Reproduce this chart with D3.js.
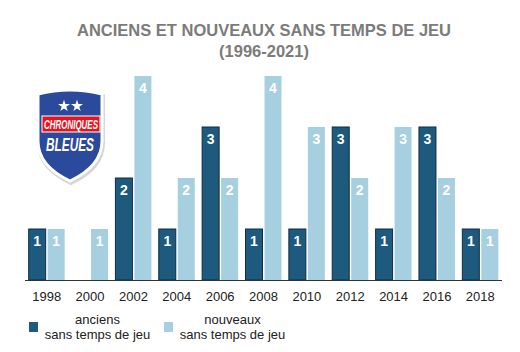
<!DOCTYPE html>
<head>
  <meta charset="utf-8">
  <script src="https://cdn.jsdelivr.net/npm/d3@7"></script>
  <style>
    body { margin: 0; background: #fff; font-family: "Liberation Sans", Arial, sans-serif; }
    svg { display: block; }
  </style>
</head>
<body>
  <div id="chart"></div>
  <script>

  var years = ["1998","2000","2002","2004","2006","2008","2010","2012","2014","2016","2018"]
    , anciens  = [1, 0, 2, 1, 3, 1, 1, 3, 1, 3, 1]
    , nouveaux = [1, 1, 4, 2, 2, 4, 3, 2, 3, 2, 1]
    , seriesKeys = ["anciens", "nouveaux"]
    , seriesColors = ["#1d5a7d", "#a6cfe0"]
    , legendLines = [["anciens", "sans temps de jeu"], ["nouveaux", "sans temps de jeu"]]
    , titleLines = ["ANCIENS ET NOUVEAUX SANS TEMPS DE JEU", "(1996-2021)"]

  var width = 520, height = 352
    , baseY = 280

  var svg = d3.select("#chart").append("svg")
      .attr("width", width)
      .attr("height", height)

  // title
  svg.selectAll(".title")
      .data(titleLines)
    .enter().append("text")
      .attr("class", "title")
      .attr("x", 264)
      .attr("y", function(d, i) { return 36 + i * 21 })
      .attr("text-anchor", "middle")
      .style("font-size", "16.5px")
      .style("font-weight", "bold")
      .style("fill", "#7b7b7b")
      .text(function(d) { return d })

  var x = d3.scaleBand()
      .domain(years)
      .range([25, 502])

  var y = d3.scaleLinear()
      .domain([0, 4])
      .range([baseY, 76])

  var rows = years.map(function(yr, i) {
    return { year: yr, values: [anciens[i], nouveaux[i]] }
  })

  var groups = svg.selectAll(".group")
      .data(rows)
    .enter().append("g")
      .attr("class", "group")
      .attr("transform", function(d) { return "translate(" + (x(d.year) + x.bandwidth() / 2) + ",0)" })

  var bars = groups.selectAll(".bar")
      .data(function(d) {
        return d.values.map(function(v, k) { return { key: seriesKeys[k], k: k, value: v } }).filter(function(b) { return b.value > 0 })
      })
    .enter().append("g")
      .attr("class", "bar")

  bars.append("rect")
      .attr("x", function(d) { return d.k == 0 ? -18 : 1 })
      .attr("width", 17)
      .attr("y", function(d) { return y(d.value) })
      .attr("height", function(d) { return baseY - y(d.value) })
      .style("fill", function(d) { return seriesColors[d.k] })
      .style("stroke", function(d) { return d.k == 0 ? "#0e2e45" : "none" })
      .style("stroke-width", 1)

  bars.append("text")
      .attr("x", function(d) { return d.k == 0 ? -9.5 : 9.5 })
      .attr("y", function(d) { return y(d.value) + 17 })
      .attr("text-anchor", "middle")
      .style("font-size", "14px")
      .style("font-weight", "bold")
      .style("fill", "#fff")
      .text(function(d) { return d.value })

  // x axis
  var xAxis = svg.append("g")
      .attr("transform", "translate(0," + baseY + ")")
      .call(d3.axisBottom(x).tickSize(0).tickPadding(12))

  xAxis.select(".domain").attr("stroke", "#333").attr("d", "M25,0.5H502")
  xAxis.selectAll("text")
      .style("font-size", "13px")
      .style("font-family", "'Liberation Sans', Arial, sans-serif")
      .style("fill", "#222")

  // legend
  var legend = svg.selectAll(".legend")
      .data(legendLines)
    .enter().append("g")
      .attr("class", "legend")
      .attr("transform", function(d, i) { return "translate(" + (29 + i * 135) + ",322)" })

  legend.append("rect")
      .attr("width", 9)
      .attr("height", 10)
      .style("fill", function(d, i) { return seriesColors[i] })

  legend.append("text")
      .attr("text-anchor", "middle")
      .style("font-size", "13px")
      .style("fill", "#222")
      .selectAll("tspan")
      .data(function(d) { return d })
    .enter().append("tspan")
      .attr("x", 68.5)
      .attr("y", function(d, i) { return 2 + i * 15 })
      .text(function(d) { return d })

  // logo
  var logo = svg.append("g")
      .attr("transform", "translate(38,89)")

  var shield = "M0,5 Q32,-3 64,5 L64,52 Q64,77 32,92 Q0,77 0,52 Z"

  logo.append("path")
      .attr("d", shield)
      .attr("transform", "translate(1,2)")
      .style("fill", "#d6d6d6")
      .style("stroke", "#d6d6d6")
      .style("stroke-width", 4)

  logo.append("path")
      .attr("d", shield)
      .style("fill", "#2b4a9b")
      .style("stroke", "#fff")
      .style("stroke-width", 3)

  logo.selectAll(".star")
      .data([26, 39])
    .enter().append("path")
      .attr("transform", function(d) { return "translate(" + d + ",17)" })
      .attr("d", d3.symbol(d3.symbolStar).size(45))
      .style("fill", "#fff")

  logo.append("rect")
      .attr("x", 4)
      .attr("y", 27)
      .attr("width", 58)
      .attr("height", 16)
      .style("fill", "#e3151f")
      .style("stroke", "#fff")
      .style("stroke-width", 1)

  logo.append("text")
      .attr("x", 33)
      .attr("y", 40)
      .attr("text-anchor", "middle")
      .attr("textLength", 54)
      .attr("lengthAdjust", "spacingAndGlyphs")
      .style("font-size", "13px")
      .style("font-weight", "bold")
      .style("font-style", "italic")
      .style("fill", "#fff")
      .text("CHRONIQUES")

  logo.append("text")
      .attr("x", 32)
      .attr("y", 62)
      .attr("text-anchor", "middle")
      .attr("textLength", 48)
      .attr("lengthAdjust", "spacingAndGlyphs")
      .style("font-size", "18px")
      .style("font-weight", "bold")
      .style("font-style", "italic")
      .style("fill", "#fff")
      .text("BLEUES")

  </script>
</body>
